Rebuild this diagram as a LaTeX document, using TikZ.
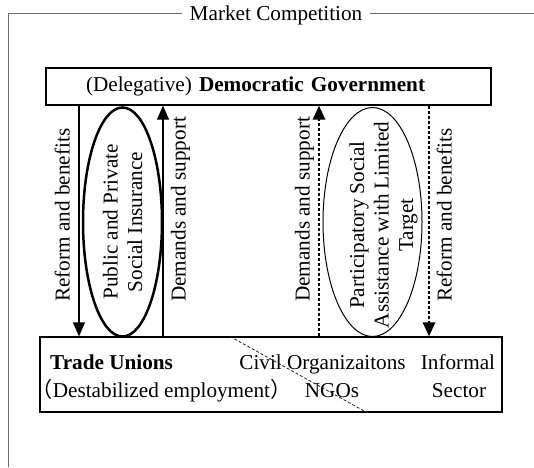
\documentclass[tikz,border=0pt]{standalone}
\usepackage{fontspec}
\setmainfont{Liberation Serif}
\newfontfamily\cjk{Noto Sans CJK SC}
\usetikzlibrary{positioning, shapes.geometric, arrows.meta}
\definecolor{mgray}{RGB}{110,110,110}
\definecolor{mdark}{RGB}{30,30,30}

\begin{document}
\begin{tikzpicture}[x=1pt, y=-1pt,
  every node/.style={font=\fontsize{21.2pt}{24.5pt}\selectfont, inner sep=0pt},
  box/.style={draw, line width=1.2pt},
  flow/.style={line width=1.2pt, -{Triangle[width=12pt,length=14pt]}},
  weakflow/.style={line width=2.8pt, dash pattern=on 3.5pt off 1.5pt, -{Triangle[width=12pt,length=14pt]}},
  lab/.style={rotate=90, anchor=base west}]
  \useasboundingbox (0,0) rectangle (534,467);
  % outer frame
  \draw[mgray, line width=1pt] (534,13) -- (8,13) -- (8,467);
  \node[fill=white, inner xsep=8pt, inner ysep=2pt, anchor=base] (market) at (276,20) {Market Competition};
  % government and society boxes
  \node[box, minimum width=445pt, minimum height=37pt, text width=365pt, inner xsep=40pt, align=left] (gov) at (268.5,86.5) {(Delegative) \textbf{Democratic Government}};
  \node[box, minimum width=462pt, minimum height=75pt] (people) at (271,374.5) {};
  \node[anchor=base west] (unions) at (50,369) {\textbf{Trade Unions}};
  \node[anchor=base] (employ) at (161.5,397) {{\cjk （}Destabilized employment{\cjk ）}};
  \node[anchor=base] (civil) at (322.5,369) {Civil Organizaitons};
  \node[anchor=base] (ngo) at (332,397) {NGOs};
  \node[anchor=base] (informal) at (458,369) {Informal};
  \node[anchor=base] (sector) at (459,397) {Sector};
  \coordinate (cuttop) at (230,0);
  \coordinate (cutbot) at (367,0);
  \draw[mdark, line width=0.8pt, dash pattern=on 3pt off 2pt] (people.north -| cuttop) -- (people.south -| cutbot);
  % the two schemes
  \node[ellipse, draw, line width=2.5pt, rotate=90, minimum width=229pt, minimum height=79pt, align=center] (insurance) at (122.5,222) {Public and Private\\Social Insurance};
  \node[ellipse, draw, line width=1pt, minimum width=99pt, minimum height=229pt] (assist) at (372.5,222) {};
  \node[rotate=90, align=center] (assisttext) at (383.5,225) {Participatory Social\\Assistance with Limited\\Target};
  % flows between government and society
  \coordinate (rbl) at (79,0);
  \coordinate (dsl) at (163,0);
  \coordinate (dsr) at (319,0);
  \coordinate (rbr) at (429,0);
  \draw[flow] (gov.south -| rbl) -- (people.north -| rbl);
  \draw[flow] (people.north -| dsl) -- (gov.south -| dsl);
  \draw[weakflow] (people.north -| dsr) -- (gov.south -| dsr);
  \draw[weakflow] (gov.south -| rbr) -- (people.north -| rbr);
  \node[lab] (rbltext) at (69.5,302) {Reform and benefits};
  \node[lab] (dsltext) at (185.5,302) {Demands and support};
  \node[lab] (dsrtext) at (309.5,302) {Demands and support};
  \node[lab] (rbrtext) at (451.5,302) {Reform and benefits};
\end{tikzpicture}
\end{document}
